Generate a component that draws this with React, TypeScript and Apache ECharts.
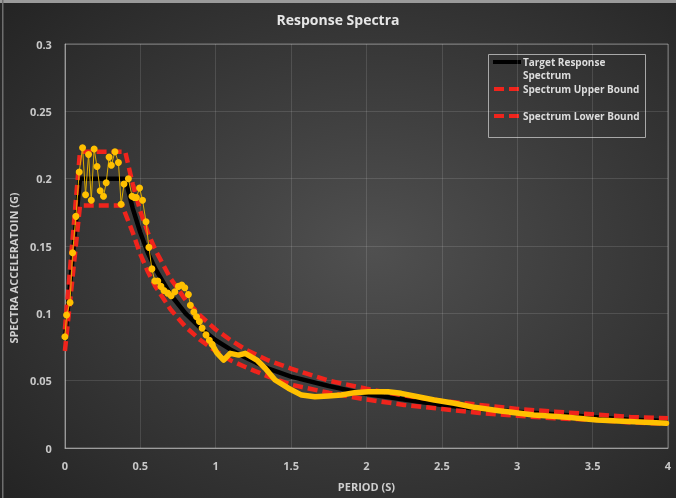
import React, { useEffect, useRef } from "react";
import * as echarts from "echarts";

const titleText = "Response Spectra";
const xName = "PERIOD (S)";
const yName = "SPECTRA ACCELERATOIN (G)";
const legendNames = ["Target Response", "Spectrum", "Spectrum Upper Bound", "Spectrum Lower Bound"];

// [period (s), spectral acceleration (g)]
const targetSpectrum: number[][] = [
  [0, 0.08], [0.1, 0.2], [0.4, 0.2], [0.45, 0.178], [0.5, 0.16], [0.55, 0.145], [0.6, 0.133],
  [0.7, 0.114], [0.8, 0.1], [0.9, 0.089], [1.0, 0.08], [1.1, 0.073], [1.2, 0.067], [1.35, 0.059],
  [1.5, 0.053], [1.75, 0.046], [2.0, 0.04], [2.25, 0.036], [2.5, 0.032], [2.75, 0.029],
  [3.0, 0.027], [3.25, 0.025], [3.5, 0.023], [3.75, 0.021], [4.0, 0.02],
];

const upperBound: number[][] = [
  [0, 0.088], [0.1, 0.22], [0.4, 0.22], [0.45, 0.196], [0.5, 0.176], [0.55, 0.16], [0.6, 0.147],
  [0.7, 0.126], [0.8, 0.11], [0.9, 0.098], [1.0, 0.088], [1.1, 0.08], [1.2, 0.073], [1.35, 0.065],
  [1.5, 0.059], [1.75, 0.05], [2.0, 0.044], [2.25, 0.039], [2.5, 0.035], [2.75, 0.032],
  [3.0, 0.029], [3.25, 0.027], [3.5, 0.025], [3.75, 0.023], [4.0, 0.022],
];

const lowerBound: number[][] = [
  [0, 0.072], [0.1, 0.18], [0.38, 0.18], [0.45, 0.16], [0.5, 0.144], [0.55, 0.131], [0.6, 0.12],
  [0.7, 0.103], [0.8, 0.09], [0.9, 0.08], [1.0, 0.072], [1.1, 0.065], [1.2, 0.06], [1.35, 0.053],
  [1.5, 0.047], [1.75, 0.041], [2.0, 0.036], [2.25, 0.032], [2.5, 0.029], [2.75, 0.026],
  [3.0, 0.024], [3.25, 0.022], [3.5, 0.021], [3.75, 0.019], [4.0, 0.018],
];

// matched record spectrum, short periods (individual markers visible)
const matchedPeak: number[][] = [
  [0.0, 0.0826], [0.011, 0.0987], [0.034, 0.108], [0.051, 0.145], [0.073, 0.172], [0.095, 0.205],
  [0.117, 0.223], [0.137, 0.188], [0.157, 0.218], [0.175, 0.184], [0.194, 0.222], [0.213, 0.209],
  [0.234, 0.191], [0.256, 0.187], [0.274, 0.197], [0.293, 0.216], [0.308, 0.21], [0.332, 0.22],
  [0.355, 0.212], [0.373, 0.181], [0.392, 0.196], [0.421, 0.2], [0.445, 0.187], [0.46, 0.186],
  [0.474, 0.186], [0.495, 0.193], [0.515, 0.184], [0.538, 0.168], [0.557, 0.149], [0.577, 0.133],
  [0.596, 0.124], [0.616, 0.124], [0.637, 0.12], [0.657, 0.117], [0.682, 0.115], [0.705, 0.113],
  [0.729, 0.116], [0.753, 0.12], [0.775, 0.121], [0.795, 0.119], [0.819, 0.114], [0.832, 0.106],
  [0.855, 0.101], [0.873, 0.0975], [0.892, 0.094], [0.91, 0.089], [0.936, 0.084], [0.958, 0.08],
  [0.976, 0.077],
];

// matched record spectrum, long periods (dense markers form a band)
const matchedTail: number[][] = [
  [0.976, 0.077], [1.009, 0.0705], [1.053, 0.0653], [1.096, 0.0703], [1.152, 0.069], [1.196, 0.0703],
  [1.273, 0.0653], [1.328, 0.0592], [1.394, 0.0505], [1.482, 0.0444], [1.57, 0.0393], [1.658, 0.0381],
  [1.746, 0.0386], [1.834, 0.0393], [1.922, 0.0411], [2.011, 0.0418], [2.143, 0.0418], [2.23, 0.0406],
  [2.341, 0.0381], [2.45, 0.0356], [2.583, 0.0332], [2.715, 0.0302], [2.89, 0.0275], [3.111, 0.0245],
  [3.332, 0.0228], [3.53, 0.0208], [3.99, 0.0184],
];

const FONT = "Open Sans";
const RED = "#f0241c";
const YELLOW = "#ffc000";

export default function App() {
  const ref = useRef<HTMLDivElement>(null);
  useEffect(() => {
    if (!ref.current) return;
    const chart = echarts.init(ref.current, undefined, { renderer: "svg" });
    const option: any = {
      animation: false,
      backgroundColor: {
        type: "radial",
        x: 0.55,
        y: 0.5,
        r: 0.75,
        colorStops: [
          { offset: 0, color: "#505050" },
          { offset: 1, color: "#232323" },
        ],
      },
      title: {
        text: titleText,
        left: "center",
        top: 7,
        textStyle: { color: "#e6e6e6", fontFamily: FONT, fontWeight: "bold", fontSize: 14 },
      },
      grid: {
        left: 62,
        right: 8,
        top: 44,
        bottom: 50,
        show: true,
        borderColor: "rgba(210,210,210,0.45)",
        borderWidth: 1,
      },
      xAxis: {
        type: "value",
        min: 0,
        max: 4,
        interval: 0.5,
        name: xName,
        nameLocation: "middle",
        nameGap: 33,
        nameTextStyle: { color: "#cfcfcf", fontFamily: FONT, fontWeight: "bold", fontSize: 11 },
        axisLine: { show: true, lineStyle: { color: "rgba(210,210,210,0.5)", width: 1 } },
        axisTick: { show: false },
        axisLabel: { color: "#c8c8c8", fontFamily: FONT, fontWeight: "bold", fontSize: 11, margin: 12 },
        splitLine: { show: true, lineStyle: { color: "rgba(255,255,255,0.12)", width: 1 } },
      },
      yAxis: {
        type: "value",
        min: 0,
        max: 0.3,
        interval: 0.05,
        name: yName,
        nameLocation: "middle",
        nameGap: 41,
        nameTextStyle: {
          color: "#cfcfcf",
          fontFamily: FONT,
          fontWeight: "bold",
          fontSize: 11,
          padding: [0, 44, 0, 0],
        },
        axisLine: { show: true, lineStyle: { color: "rgba(210,210,210,0.5)", width: 1 } },
        axisTick: { show: false },
        axisLabel: { color: "#c8c8c8", fontFamily: FONT, fontWeight: "bold", fontSize: 11, margin: 13 },
        splitLine: { show: true, lineStyle: { color: "rgba(255,255,255,0.12)", width: 1 } },
      },
      series: [
        {
          name: "Target Response Spectrum",
          type: "line",
          data: targetSpectrum,
          showSymbol: false,
          lineStyle: { color: "#000000", width: 4.5 },
          z: 2,
        },
        {
          name: "Spectrum Upper Bound",
          type: "line",
          data: upperBound,
          showSymbol: false,
          lineStyle: { color: RED, width: 4.5, type: [10, 5] },
          z: 3,
        },
        {
          name: "Spectrum Lower Bound",
          type: "line",
          data: lowerBound,
          showSymbol: false,
          lineStyle: { color: RED, width: 4.5, type: [10, 5] },
          z: 3,
        },
        {
          name: "Matched Spectrum",
          type: "line",
          data: matchedTail,
          showSymbol: false,
          lineStyle: { color: YELLOW, width: 5.5, cap: "round", join: "round" },
          z: 4,
        },
        {
          name: "Matched Spectrum Peak",
          type: "line",
          data: matchedPeak,
          symbol: "circle",
          symbolSize: 7,
          itemStyle: { color: YELLOW },
          lineStyle: { color: "#e0ae00", width: 1 },
          z: 5,
        },
      ],
      graphic: [
        { type: "rect", shape: { x: 0, y: 0, width: 676, height: 3 }, style: { fill: "#9a9a9a" }, silent: true },
        { type: "rect", shape: { x: 2, y: 0, width: 1.5, height: 498 }, style: { fill: "#6e6e6e" }, silent: true },
        {
          type: "rect",
          shape: { x: 488.5, y: 54.5, width: 157, height: 83 },
          style: { fill: "rgba(0,0,0,0)", stroke: "#a8a8a8", lineWidth: 1 },
          silent: true,
        },
        {
          type: "line",
          shape: { x1: 493, y1: 62, x2: 521, y2: 62 },
          style: { stroke: "#000", lineWidth: 4 },
          silent: true,
        },
        {
          type: "line",
          shape: { x1: 494, y1: 89, x2: 520, y2: 89 },
          style: { stroke: RED, lineWidth: 4, lineDash: [10, 5] },
          silent: true,
        },
        {
          type: "line",
          shape: { x1: 494, y1: 116, x2: 520, y2: 116 },
          style: { stroke: RED, lineWidth: 4, lineDash: [10, 5] },
          silent: true,
        },
        {
          type: "text",
          x: 523,
          y: 62,
          style: { text: legendNames[0], fill: "#dcdcdc", font: `bold 10px "${FONT}"`, verticalAlign: "middle" },
          silent: true,
        },
        {
          type: "text",
          x: 523,
          y: 75,
          style: { text: legendNames[1], fill: "#dcdcdc", font: `bold 10px "${FONT}"`, verticalAlign: "middle" },
          silent: true,
        },
        {
          type: "text",
          x: 523,
          y: 89,
          style: { text: legendNames[2], fill: "#dcdcdc", font: `bold 10px "${FONT}"`, verticalAlign: "middle" },
          silent: true,
        },
        {
          type: "text",
          x: 523,
          y: 116,
          style: { text: legendNames[3], fill: "#dcdcdc", font: `bold 10px "${FONT}"`, verticalAlign: "middle" },
          silent: true,
        },
      ],
    };
    chart.setOption(option);
    return () => chart.dispose();
  }, []);
  return (
    <div
      ref={ref}
      style={{ position: "fixed", left: 0, top: 0, width: 676, height: 498 }}
    />
  );
}
